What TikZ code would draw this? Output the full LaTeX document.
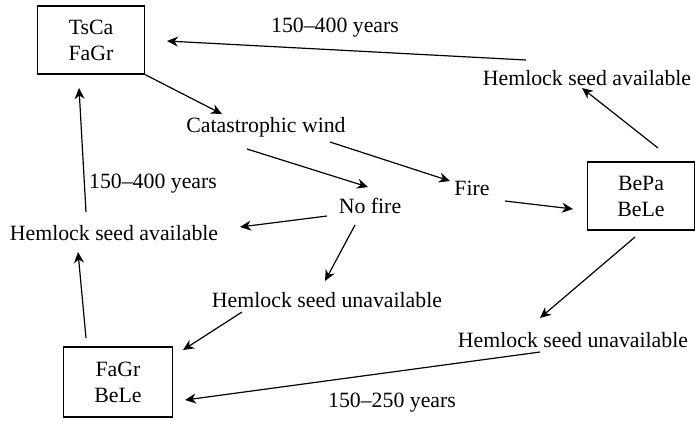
\documentclass[tikz,border=0pt]{standalone}
\usepackage{fontspec}
\setmainfont{Liberation Serif}
\usetikzlibrary{arrows.meta,calc}
\tikzset{
  stand/.style={rectangle, draw, line width=0.6pt, minimum width=53.5pt, minimum height=34pt,
                align=center, font=\fontsize{10.9}{13}\selectfont},
  lbl/.style={inner sep=0pt, font=\fontsize{10.9}{13}\selectfont},
  arr/.style={-{Stealth[length=5.5pt, width=5pt]}, line width=0.6pt},
}

\begin{document}
\begin{tikzpicture}[x=0.5pt, y=-0.5pt]
\useasboundingbox (0,0) rectangle (695,420);
% stands
\node[stand] (tsca) at (91,40) {TsCa\\FaGr};
\node[stand] (bepa) at (641,196) {BePa\\BeLe};
\node[stand, minimum width=54.5pt, minimum height=35pt] (fagr) at (118,382) {FaGr\\BeLe};
% events
\node[lbl] (wind) at (266,127) {Catastrophic wind};
\node[lbl] (fire) at (472,188) {Fire};
\node[lbl] (nofire) at (370,206) {No fire};
\node[lbl] (hsaR) at (587,78) {Hemlock seed available};
\node[lbl] (hsaL) at (114,233) {Hemlock seed available};
\node[lbl] (hsuM) at (327,300) {Hemlock seed unavailable};
\node[lbl] (hsuR) at (573,340) {Hemlock seed unavailable};
% durations
\node[lbl] (yrsT) at (335,28) {150--400 years};
\node[lbl] (yrsL) at (153,184) {150--400 years};
\node[lbl] (yrsB) at (392,403) {150--250 years};
% transitions
\draw[arr] (tsca.south east) -- ($(wind)+(-44,-13)$);
\draw[arr] ($(wind)+(-19,22)$) -- ($(nofire)+(-2,-19)$);
\draw[arr] ($(wind)+(64,15)$) -- ($(fire)+(-22,-7)$);
\draw[arr] ($(fire)+(33,13)$) -- ($(bepa)+(-68,13)$);
\draw[arr] ($(nofire)+(-43,10)$) -- ($(hsaL)+(126,-6)$);
\draw[arr] ($(nofire)+(-15,19)$) -- ($(hsuM)+(-2,-19)$);
\draw[arr] ($(hsuM)+(-85,12)$) -- ($(fagr)+(65,-32)$);
\draw[arr] ($(fagr)+(-32,-44)$) -- ($(hsaL)+(-36,19)$);
\draw[arr] ($(hsaL)+(-28,-21)$) -- ($(tsca)+(-12,48)$);
\draw[arr] ($(bepa)+(17,-48)$) -- ($(hsaR)+(-5,10)$);
\draw[arr] ($(hsaR)+(-61,-18)$) -- ($(tsca)+(76,1)$);
\draw[arr] ($(bepa)+(-6,41)$) -- ($(hsuR)+(-33,-22)$);
\draw[arr] ($(hsuR)+(-33,12)$) -- ($(fagr)+(67,18)$);
\end{tikzpicture}
\end{document}
